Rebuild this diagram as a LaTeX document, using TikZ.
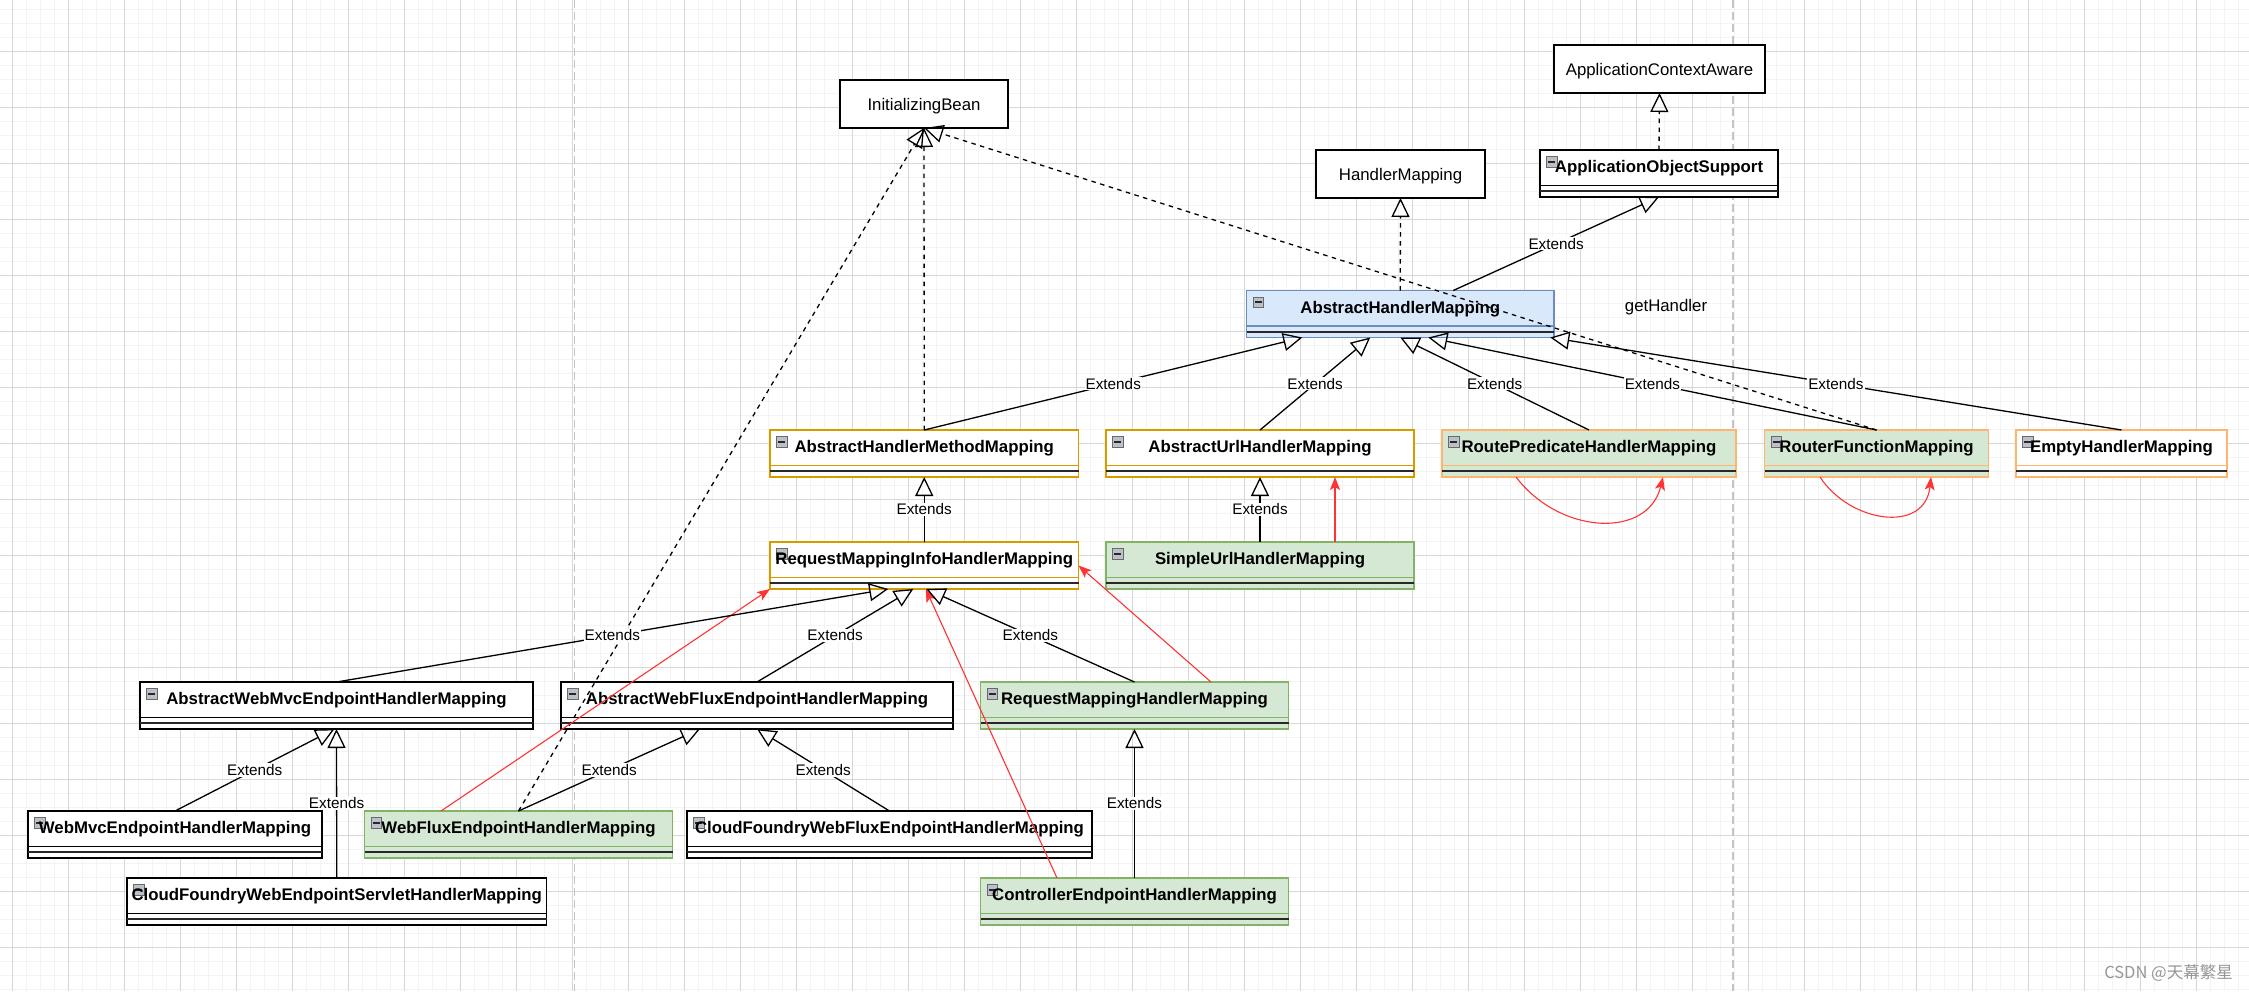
\documentclass[tikz,border=0pt]{standalone}
\usepackage{fontspec}
\setmainfont{Liberation Sans}
\newfontfamily\cjkfont{Noto Sans CJK SC}
\usetikzlibrary{arrows.meta,fit,calc}
\definecolor{gridminor}{RGB}{243,243,243}
\definecolor{gridmajor}{RGB}{215,215,215}
\definecolor{pagebrk}{RGB}{196,196,196}
\definecolor{blueF}{RGB}{218,232,252}
\definecolor{blueS}{RGB}{108,142,191}
\definecolor{greenF}{RGB}{213,232,212}
\definecolor{greenS}{RGB}{130,179,102}
\definecolor{goldS}{RGB}{215,155,0}
\definecolor{lorangeS}{RGB}{255,181,112}
\definecolor{redA}{RGB}{255,51,51}
\definecolor{iconF}{RGB}{188,192,200}
\definecolor{iconS}{RGB}{105,105,105}
\definecolor{sepC}{RGB}{40,40,40}
\definecolor{wmark}{RGB}{150,150,150}
\newcommand\cfont{\fontsize{16.8}{20}\selectfont}
\newcommand\lfont{\fontsize{15.3}{18}\selectfont}
\newcommand\umlclass[7]{%
  \node[clsbody, fill=#5, draw=#6, fit={(#2,#3) (#4,#3+47)}] (#1) {};
  \draw[draw=#6, line width=1.2pt] (#2,#3+35.5) -- (#4,#3+35.5);
  \draw[sepline] (#2,#3+41.3) -- (#4,#3+41.3);
  \draw[iconbox] (#2+6.5,#3+6.5) rectangle (#2+17,#3+17);
  \draw[iconbar] (#2+8.3,#3+11.75) -- (#2+15.2,#3+11.75);
  \node[clstext, anchor=base] (#1-t) at ({(#2+#4)/2},#3+22.8) {#7};
}
\begin{document}
\begin{tikzpicture}[x=1pt,y=-1pt,
  clsbody/.style={rectangle, line width=1.2pt, inner sep=0pt, outer sep=0pt},
  sepline/.style={draw=sepC, line width=2pt},
  iconbox/.style={draw=iconS, fill=iconF, line width=0.8pt},
  iconbar/.style={draw=sepC, line width=2pt},
  clstext/.style={font=\bfseries\cfont, inner sep=0pt, text=black},
  plainbox/.style={rectangle, draw=black, fill=white, line width=1.4pt, inner sep=0pt, outer sep=0pt, font=\cfont},
  genedge/.style={draw=black, line width=1.3pt, -{Triangle[open,length=19pt,width=18pt]}},
  realedge/.style={genedge, dash pattern=on 4.5pt off 4.5pt},
  redarr/.style={draw=redA, line width=1.1pt, -{Stealth[length=13pt,width=10pt,inset=3pt]}},
  lbl/.style={fill=white, inner sep=1pt, font=\lfont, text=black},
  plaintext/.style={font=\cfont, inner sep=0pt, text=black}
]
\useasboundingbox (0,0) rectangle (2249,991);
\clip (0,0) rectangle (2249,991);
\fill[white] (0,0) rectangle (2249,991);
% grid
\foreach \i in {0,...,161} \draw[gridminor, line width=1pt] ({-1.5+14*\i},0) -- ({-1.5+14*\i},991);
\foreach \j in {0,...,71} \draw[gridminor, line width=1pt] (0,{-4.7+14*\j}) -- (2249,{-4.7+14*\j});
\foreach \i in {0,...,40} \draw[gridmajor, line width=1.2pt] ({12.5+56*\i},0) -- ({12.5+56*\i},991);
\foreach \j in {0,...,17} \draw[gridmajor, line width=1.2pt] (0,{-4.7+56*\j}) -- (2249,{-4.7+56*\j});
% page breaks
\draw[pagebrk, line width=1.6pt, dash pattern=on 8pt off 4pt] (574.5,0) -- (574.5,991);
\draw[pagebrk, line width=1.6pt, dash pattern=on 8pt off 4pt] (1733,0) -- (1733,991);

% plain boxes
\node[plainbox, minimum width=168, minimum height=48] (IB) at (924,104) {};
\node[plaintext, anchor=base] (IBt) at (924,110) {InitializingBean};
\node[plainbox, minimum width=169, minimum height=48] (HM) at (1400.5,174) {};
\node[plaintext, anchor=base] (HMt) at (1400.5,180) {HandlerMapping};
\node[plainbox, minimum width=211, minimum height=48] (ACA) at (1659.5,69) {};
\node[plaintext, anchor=base] (ACAt) at (1659.5,75) {ApplicationContextAware};

% class boxes
\umlclass{AOS}{1540}{150}{1778}{white}{black}{ApplicationObjectSupport}
\umlclass{AHM}{1246.5}{290.5}{1554}{blueF}{blueS}{AbstractHandlerMapping}
\umlclass{AHMM}{770}{430}{1078.5}{white}{goldS}{AbstractHandlerMethodMapping}
\umlclass{AUHM}{1106}{430}{1414}{white}{goldS}{AbstractUrlHandlerMapping}
\umlclass{RPHM}{1442}{430}{1736}{greenF}{lorangeS}{RoutePredicateHandlerMapping}
\umlclass{RFM}{1764.5}{430}{1988.5}{greenF}{lorangeS}{RouterFunctionMapping}
\umlclass{EHM}{2016}{430}{2227}{white}{lorangeS}{EmptyHandlerMapping}
\umlclass{RMIHM}{770}{542}{1078.5}{white}{goldS}{RequestMappingInfoHandlerMapping}
\umlclass{SUHM}{1106}{542}{1414}{greenF}{greenS}{SimpleUrlHandlerMapping}
\umlclass{AWMvc}{140}{682}{533}{white}{black}{AbstractWebMvcEndpointHandlerMapping}
\umlclass{AWFlux}{561}{682}{953}{white}{black}{AbstractWebFluxEndpointHandlerMapping}
\umlclass{RMHM}{980.5}{682}{1288.5}{greenF}{greenS}{RequestMappingHandlerMapping}
\umlclass{WebMvc}{28}{811}{322}{white}{black}{WebMvcEndpointHandlerMapping}
\umlclass{WebFlux}{364.5}{811}{672.5}{greenF}{greenS}{WebFluxEndpointHandlerMapping}
\umlclass{CFFlux}{687}{811}{1092}{white}{black}{CloudFoundryWebFluxEndpointHandlerMapping}
\umlclass{CFServlet}{127}{878}{546.5}{white}{black}{CloudFoundryWebEndpointServletHandlerMapping}
\umlclass{CEHM}{980.5}{878}{1288.5}{greenF}{greenS}{ControllerEndpointHandlerMapping}

% free text
\node[plaintext, anchor=base] (gh) at (1666,311) {getHandler};
\node[anchor=east, font=\cjkfont\fontsize{16.5}{19}\selectfont, text=wmark, inner sep=0pt] (wm) at (2233,973) {CSDN @天幕繁星};

% realization (dashed)
\draw[realedge] (AHMM.north) -- (IB.south);
\draw[realedge] (WebFlux.north) -- (IB.south);
\draw[realedge] (RFM.north) -- (IB.south);
\draw[realedge] (AHM.north) -- (HM.south);
\draw[realedge] (AOS.north) -- (ACA.south);

% red arrows
\draw[redarr] ([xshift=75pt]SUHM.north) -- ([xshift=75pt]AUHM.south);
\draw[redarr] ([xshift=-73pt]RPHM.south) .. controls +(44,58) and +(-15,62) .. ([xshift=74pt]RPHM.south);
\draw[redarr] ([xshift=-56.5pt]RFM.south) .. controls +(30,46) and +(-6,57) .. ([xshift=54.5pt]RFM.south);
\draw[redarr] ([xshift=-77.5pt]WebFlux.north) -- (RMIHM.south west);
\draw[redarr] ([xshift=76.5pt]RMHM.north) -- (RMIHM.east);
\draw[redarr] ([xshift=-77.5pt]CEHM.north) -- ([xshift=1.5pt]RMIHM.south);

% generalization (Extends)
\draw[genedge] ([xshift=53pt]AHM.north) -- node[lbl]{Extends} (AOS.south);
\draw[genedge] (AHMM.north) -- node[lbl]{Extends} ([xshift=-98pt]AHM.south);
\draw[genedge] (AUHM.north) -- node[lbl]{Extends} ([xshift=-30pt]AHM.south);
\draw[genedge] (RPHM.north) -- node[lbl]{Extends} (AHM.south);
\draw[genedge] (RFM.north) -- node[lbl]{Extends} ([xshift=28pt]AHM.south);
\draw[genedge] (EHM.north) -- node[lbl]{Extends} ([xshift=150pt]AHM.south);
\draw[genedge] (RMIHM.north) -- node[lbl]{Extends} (AHMM.south);
\draw[genedge] (SUHM.north) -- node[lbl]{Extends} (AUHM.south);
\draw[genedge] (AWMvc.north) -- node[lbl]{Extends} ([xshift=-36pt]RMIHM.south);
\draw[genedge] (AWFlux.north) -- node[lbl]{Extends} ([xshift=-11pt]RMIHM.south);
\draw[genedge] (RMHM.north) -- node[lbl]{Extends} ([xshift=2pt]RMIHM.south);
\draw[genedge] (WebMvc.north) -- node[lbl]{Extends} ([xshift=-2pt]AWMvc.south);
\draw[genedge] (CFServlet.north) -- node[lbl]{Extends} (AWMvc.south);
\draw[genedge] (WebFlux.north) -- node[lbl]{Extends} ([xshift=-57pt]AWFlux.south);
\draw[genedge] (CFFlux.north) -- node[lbl]{Extends} (AWFlux.south);
\draw[genedge] (CEHM.north) -- node[lbl]{Extends} (RMHM.south);
\end{tikzpicture}
\end{document}
